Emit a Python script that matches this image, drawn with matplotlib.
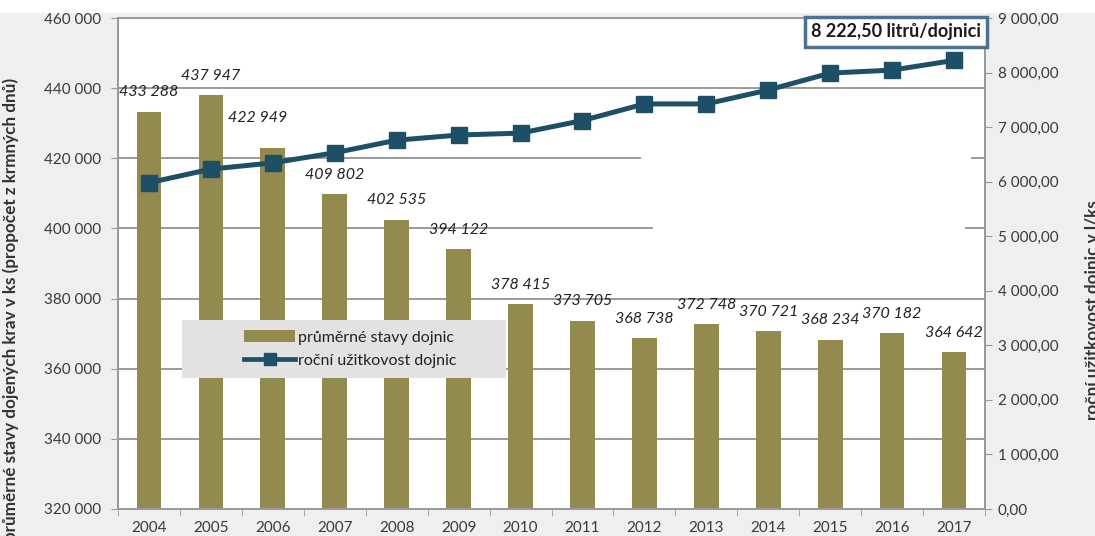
import matplotlib
matplotlib.use("Agg")
import matplotlib.pyplot as plt
from matplotlib.patches import Rectangle
from matplotlib.lines import Line2D
from matplotlib.ticker import FuncFormatter, MultipleLocator, FixedLocator
import numpy as np

plt.rcParams['font.family'] = ['Lato', 'DejaVu Sans']

years = ['2004', '2005', '2006', '2007', '2008', '2009', '2010',
         '2011', '2012', '2013', '2014', '2015', '2016', '2017']
cows = [433288, 437947, 422949, 409802, 402535, 394122, 378415,
        373705, 368738, 372748, 370721, 368234, 370182, 364642]
yield_l = [5980, 6230, 6345, 6530, 6760, 6855, 6890,
           7120, 7425, 7425, 7680, 7990, 8045, 8222.5]
bar_label = 'průměrné stavy dojnic'
line_label = 'roční užitkovost dojnic'
left_title = 'průměrné stavy dojených krav v ks (propočet z krmných dnů)'
right_title = 'roční užitkovost dojnic v l/ks'
callout = '8 222,50 litrů/dojnici'

# label position tweaks (pixels): index -> (dx, dy extra)
label_shift = {2: (-15, 10)}

W, H = 1095, 536
fig = plt.figure(figsize=(W / 100, H / 100), dpi=100, facecolor='#efefef')
fig.patches.append(Rectangle((0, 1 - 13 / H), 1, 13 / H, transform=fig.transFigure,
                             facecolor='white', edgecolor='none', zorder=0))

L, R, T, B = 118, 985, 18, 509
ax = fig.add_axes([L / W, 1 - B / H, (R - L) / W, (B - T) / H])
ax.set_facecolor('white')
ax2 = ax.twinx()

bar_c = '#938a4e'
line_c = '#1d5066'
grid_c = '#9a9a9a'
txt_c = '#3a3a3a'

x = np.arange(len(years))
ax.bar(x, cows, width=0.4, color=bar_c, zorder=2)
ax.set_xlim(-0.5, len(years) - 0.5)
ax.set_ylim(320000, 460000)
ax.yaxis.set_major_locator(MultipleLocator(20000))
ax.yaxis.set_major_formatter(FuncFormatter(lambda v, p: f"{v:,.0f}".replace(",", " ")))

# partial gridlines as in reference
xspan = R - L
grid_specs = [(440000, 0, 1), (420000, 0, (640 - L) / xspan), (420000, (972 - L) / xspan, 1),
              (400000, 0, (652 - L) / xspan), (400000, (966 - L) / xspan, 1),
              (380000, 0, 1), (360000, 0, 1), (340000, 0, 1)]
for yv, a, b in grid_specs:
    ax.axhline(yv, xmin=a, xmax=b, color=grid_c, lw=1.4, zorder=1)

ax.set_xticks(x)
ax.set_xticklabels(years)
ax.xaxis.set_minor_locator(FixedLocator(np.arange(-0.5, len(years), 1.0)))
ax.tick_params(axis='x', which='major', length=0, pad=9, labelsize=11, labelcolor=txt_c)
ax.tick_params(axis='x', which='minor', length=5, color=grid_c, direction='out')
ax.tick_params(axis='y', length=5, color=grid_c, pad=7, labelsize=11, labelcolor=txt_c)

for s in ['left', 'bottom', 'top', 'right']:
    ax.spines[s].set_color(grid_c)
    ax.spines[s].set_linewidth(1.4)
    ax2.spines[s].set_color(grid_c)
    ax2.spines[s].set_linewidth(1.4)

# bar value labels
for i, v in enumerate(cows):
    dx, dy = label_shift.get(i, (0, 0))
    ax.annotate(f"{v:,.0f}".replace(",", " "), (i, v), xytext=(dx * 0.72, (19.5 + dy) * 0.72),
                textcoords='offset points', ha='center', va='center', fontsize=11.5,
                style='italic', color='#222222', zorder=4)

ax2.plot(x, yield_l, color=line_c, lw=3.6, marker='s', markersize=11, zorder=3)
ax2.set_ylim(0, 9000)
ax2.yaxis.set_major_locator(MultipleLocator(1000))
ax2.yaxis.set_major_formatter(FuncFormatter(
    lambda v, p: f"{v:,.2f}".replace(",", "X").replace(".", ",").replace("X", " ")))
ax2.tick_params(axis='y', length=5, color=grid_c, pad=4, labelsize=11, labelcolor=txt_c)

# axis titles
fig.text(11 / W, 1 - 309 / H, left_title, rotation=90, ha='center', va='center',
         fontsize=12.3, fontweight='bold', color='#333333')
fig.text(1093 / W, 1 - 310 / H, right_title, rotation=90, ha='center', va='center',
         fontsize=12.3, fontweight='bold', color='#333333')

# legend
lx0, ly0, lx1, ly1 = 182, 320, 506, 378
fig.patches.append(Rectangle((lx0 / W, 1 - ly1 / H), (lx1 - lx0) / W, (ly1 - ly0) / H,
                             transform=fig.transFigure, facecolor='#e2e2e2',
                             edgecolor='none', zorder=4))
handles = [Rectangle((0, 0), 1, 1, facecolor=bar_c, edgecolor='none'),
           Line2D([], [], color=line_c, lw=3.4, marker='s', markersize=9)]
fig.legend(handles, [bar_label, line_label], loc='center left',
           bbox_to_anchor=(236 / W, 1 - 349 / H), frameon=False, fontsize=11.5,
           handlelength=3.2, handletextpad=0.2, labelspacing=0.55, borderpad=0,
           labelcolor='#222222').set_zorder(5)

# callout box
fig.text(896 / W, 1 - 32 / H, callout, ha='center', va='center', fontsize=13,
         fontweight='bold', color='#1a1a1a', zorder=6,
         bbox=dict(boxstyle='square,pad=0.35', facecolor='white', edgecolor='#4d7191', lw=2.5))

fig.savefig('out.png', dpi=100, facecolor=fig.get_facecolor())
